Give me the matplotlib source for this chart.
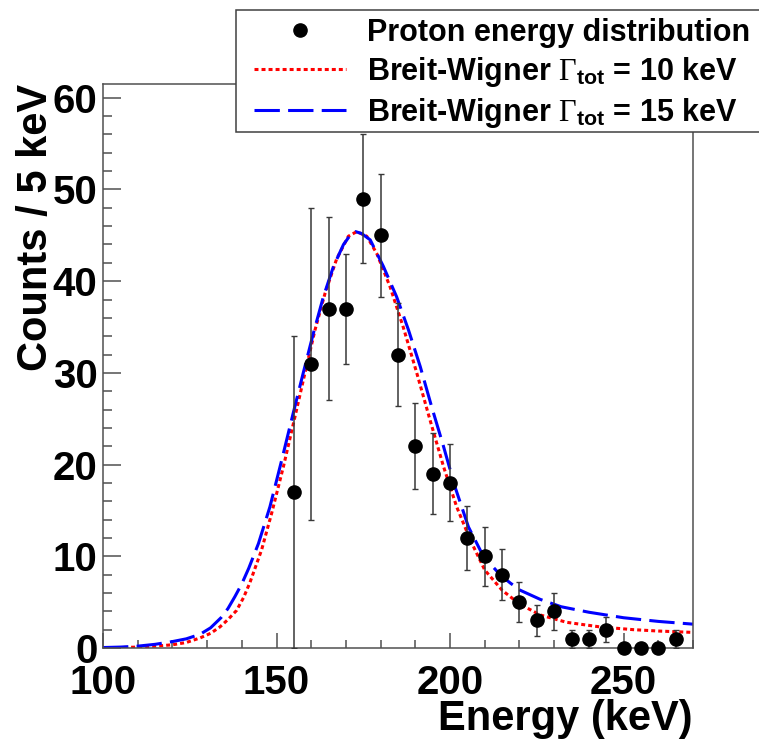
import matplotlib
matplotlib.use('Agg')
import matplotlib.pyplot as plt
from matplotlib.patches import Rectangle
from matplotlib.ticker import MultipleLocator

plt.rcParams['font.family'] = ['Liberation Sans', 'DejaVu Sans']
plt.rcParams['font.weight'] = 'bold'
plt.rcParams['axes.labelweight'] = 'bold'
plt.rcParams['mathtext.fontset'] = 'custom'
plt.rcParams['mathtext.rm'] = 'Liberation Serif:weight=normal'
plt.rcParams['mathtext.it'] = 'Liberation Serif:italic:weight=normal'
plt.rcParams['mathtext.bf'] = 'Liberation Sans:bold'

# measured proton energy distribution (5 keV bins)
energy = [155, 160, 165, 170, 175, 180, 185, 190, 195, 200, 205, 210,
          215, 220, 225, 230, 235, 240, 245, 250, 255, 260, 265]
counts = [17, 31, 37, 37, 49, 45, 32, 22, 19, 18, 12, 10,
          8, 5, 3, 4, 1, 1, 2, 0, 0, 0, 1]
errors = [17, 17, 10, 6, 7, 6.7, 5.6, 4.7, 4.4, 4.2, 3.5, 3.2,
          2.8, 2.2, 1.7, 2.0, 1.0, 1.0, 1.4, 0, 0, 0, 1.0]

# Breit-Wigner curves
bw10_e = [100, 105, 110, 115, 120, 124, 128, 131, 133.7, 136, 138.5, 140.5, 142.3,
          145.7, 148.6, 152.0, 155.3, 158.2, 161.1, 164.0, 167.3, 170.7, 173.1,
          176.0, 178.9, 182.7, 186.5, 190.4, 194.2, 198.1, 201.9, 205.8, 210, 215,
          220, 226, 233.6, 243.2, 252.8, 260, 270]
bw10 = [0.02, 0.05, 0.1, 0.2, 0.35, 0.6, 1.1, 1.6, 2.3, 3.1, 4.1, 5.5, 7.1,
        10.7, 14.7, 19.8, 25.2, 30.0, 34.7, 38.7, 42.4, 44.9, 45.4,
        44.9, 43.0, 39.4, 35.0, 30.0, 24.9, 19.8, 15.4, 11.8, 8.5, 6.3,
        4.8, 3.6, 2.8, 2.3, 2.0, 1.85, 1.7]

bw15_e = [100, 105, 110, 115, 120, 124, 128, 131, 134, 136, 138, 140, 142,
          144.8, 148.1, 151.5, 154.8, 157.7, 160.6, 163.5, 166.4, 169.3, 171.2,
          172.8, 174.5, 177.0, 180.8, 184.6, 188.0, 191.4, 194.7, 198.1, 201.4,
          205.3, 209.6, 214.4, 217.3, 220.2, 226, 232, 240, 250, 260, 270]
bw15 = [0.05, 0.1, 0.2, 0.4, 0.7, 1.0, 1.5, 2.2, 3.3, 4.3, 5.6, 7.0, 8.7,
        11.4, 15.4, 20.5, 25.6, 30.0, 34.3, 38.3, 41.6, 44.0, 45.0,
        45.4, 45.2, 44.5, 41.6, 38.3, 34.7, 30.7, 26.3, 22.0, 17.6,
        13.2, 10.0, 8.0, 7.1, 6.3, 5.3, 4.5, 3.9, 3.3, 2.9, 2.6]

fig = plt.figure(figsize=(7.59, 7.40), dpi=100)
ax = fig.add_axes([103 / 759, 1 - 648 / 740, 590 / 759, 564 / 740])

l10, = ax.plot(bw10_e, bw10, color='red', lw=2.2, ls=(0, (1.3, 1.0)),
               label=r'Breit-Wigner $\Gamma_{\mathbf{tot}}$ = 10 keV')
l15, = ax.plot(bw15_e, bw15, color='blue', lw=2.2, ls=(0, (8.3, 2.7)),
               label=r'Breit-Wigner $\Gamma_{\mathbf{tot}}$ = 15 keV')
ax.errorbar(energy, counts, yerr=errors, fmt='none', ecolor='#383838',
            elinewidth=1.1, capsize=2.5, capthick=1.0, zorder=4)
pts, = ax.plot(energy, counts, 'o', color='black', ms=9.5, clip_on=False,
               zorder=5, label='Proton energy distribution')

ax.set_xlim(100, 270)
ax.set_ylim(0, 61.5)
ax.xaxis.set_major_locator(MultipleLocator(50))
ax.xaxis.set_minor_locator(MultipleLocator(10))
ax.yaxis.set_major_locator(MultipleLocator(10))
ax.yaxis.set_minor_locator(MultipleLocator(2))
ax.tick_params(which='both', direction='in', top=False, right=False,
               color='#505050', width=1.1, labelsize=29)
ax.tick_params(axis='x', which='major', length=11, pad=11.5)
ax.tick_params(axis='x', which='minor', length=5.5)
ax.tick_params(axis='y', which='major', length=13, pad=4)
ax.tick_params(axis='y', which='minor', length=6.5)
for s in ax.spines.values():
    s.set_color('#505050')
    s.set_linewidth(1.1)

ax.set_xlabel('Energy (keV)', fontsize=30, fontweight='bold', loc='right')
ax.xaxis.set_label_coords(1.0, -0.091)
ax.xaxis.label.set_va('top')
ax.set_ylabel('Counts / 5 keV', fontsize=30, fontweight='bold', loc='top')
ax.yaxis.set_label_coords(-0.08, 1.0)

# legend box (ROOT style, reaching the right edge of the canvas)
box = Rectangle((236 / 759, 1 - 132 / 740), 0.7, 122 / 740,
                transform=fig.transFigure, facecolor='white',
                edgecolor='#404040', linewidth=1.1, zorder=3)
fig.add_artist(box)
leg = fig.legend(handles=[pts, l10, l15], loc='upper left',
                 bbox_to_anchor=(248 / 759, 1 - 12 / 740),
                 bbox_transform=fig.transFigure,
                 prop={'weight': 'bold', 'size': 22},
                 handlelength=3.0, handletextpad=0.7, borderpad=0.2,
                 labelspacing=0.22, borderaxespad=0, frameon=False)
leg.set_zorder(4)

fig.savefig('out.png', dpi=100)
